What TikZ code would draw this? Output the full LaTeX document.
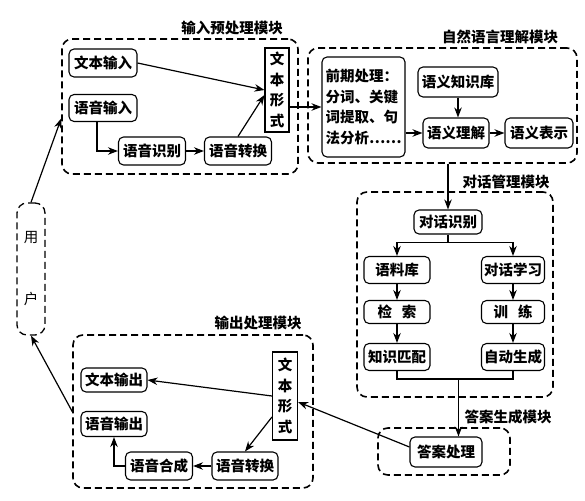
\documentclass[tikz,border=0pt]{standalone}
\usepackage{fontspec}
\newfontfamily\cjk{Noto Sans CJK SC}
\usetikzlibrary{arrows.meta,calc}
\begin{document}
\begin{tikzpicture}[x=1pt,y=-1pt,
  box/.style={draw, rounded corners=5pt, line width=1.1pt, inner sep=1pt, font=\cjk\bfseries\fontsize{14.5}{16}\selectfont},
  vbox/.style={draw, line width=1.1pt, inner sep=1pt, align=center, font=\cjk\bfseries\fontsize{14.5}{20.7}\selectfont},
  module/.style={draw, line width=1.6pt, dash pattern=on 7pt off 4pt, rounded corners=10pt, inner sep=0pt},
  title/.style={font=\cjk\bfseries\fontsize{14.5}{16}\selectfont},
  arr/.style={-{Stealth[length=10pt,width=7.5pt]}, line width=1.2pt},
  ln/.style={line width=1.2pt}]
\useasboundingbox (0,0) rectangle (585,500);

% ---------- input module ----------
\node[module, minimum width=236pt, minimum height=135pt] (inm) at (180,106.5) {};
\node[title] (t1) at (232,28) {输入预处理模块};
\node[box, minimum width=68pt, minimum height=28pt] (tin) at (103,63) {文本输入};
\node[box, minimum width=68pt, minimum height=27pt] (vin) at (103,108) {语音输入};
\node[box, minimum width=67pt, minimum height=28pt] (vrec) at (152,151) {语音识别};
\node[box, minimum width=67pt, minimum height=28pt] (vconv) at (238,151) {语音转换};
\node[vbox, minimum width=24pt, minimum height=84pt] (tform) at (277,90) {文\\本\\形\\式};

\draw[arr] (tin.east) -- (tform.west);
\draw[arr] ($(vin.south)+(-6,0)$) |- (vrec.west);
\draw[arr] (vrec.east) -- (vconv.west);
\draw[arr] (vconv.north) -- ($(tform.west)+(0,5)$);

% ---------- NLU module ----------
\node[module, minimum width=269pt, minimum height=115pt] (nlu) at (442.5,105.5) {};
\node[title] (t2) at (500,37) {自然语言理解模块};
\node[box, align=left, text width=76pt, minimum width=83pt, minimum height=100pt,
      font=\cjk\bfseries\fontsize{14.5}{20.5}\selectfont] (pre) at (363.5,107)
      {前期处理：\\分词、关键\\词提取、句\\法分析……};
\node[box, minimum width=80pt, minimum height=30pt] (kb) at (458,82) {语义知识库};
\node[box, minimum width=66pt, minimum height=30pt] (und) at (456,133) {语义理解};
\node[box, minimum width=68pt, minimum height=30pt] (rep) at (539,133) {语义表示};

\draw[arr] (tform.east |- pre.west) -- (pre.west);
\draw[arr] (pre.east |- und.west) -- (und.west);
\draw[arr] (kb.south) -- (kb.south |- und.north);
\draw[arr] (und.east) -- (rep.west);

% ---------- dialog module ----------
\node[module, minimum width=196pt, minimum height=205pt] (dlg) at (455,294.5) {};
\node[title] (t3) at (506,182) {对话管理模块};
\node[box, minimum width=68pt, minimum height=24pt] (dr) at (448,222) {对话识别};
\node[box, minimum width=66pt, minimum height=27pt] (corpus) at (397,270) {语料库};
\node[box, minimum width=63pt, minimum height=27pt] (learn) at (513,270) {对话学习};
\node[box, minimum width=66pt, minimum height=23pt] (search) at (397,312) {检\hspace{10pt}索};
\node[box, minimum width=63pt, minimum height=23pt] (train) at (513,312) {训\hspace{10pt}练};
\node[box, minimum width=66pt, minimum height=27pt] (match) at (397,357) {知识匹配};
\node[box, minimum width=63pt, minimum height=27pt] (gen) at (513,357) {自动生成};

\draw[arr] (nlu.south -| dr.north) -- (dr.north);
\draw[ln] (dr.south) -- ++(0,8) coordinate (fk);
\draw[arr] (fk) -| (corpus.north);
\draw[arr] (fk) -| (learn.north);
\draw[arr] (corpus.south) -- (search.north);
\draw[arr] (search.south) -- (match.north);
\draw[arr] (learn.south) -- (train.north);
\draw[arr] (train.south) -- (gen.north);
\draw[ln] (match.south) -- ++(0,8) coordinate (mg) -| (gen.south);
\coordinate (mm) at ($(mg)!0.53!(mg -| gen.south)$);

% ---------- answer module ----------
\node[module, minimum width=132pt, minimum height=47pt] (ansm) at (444,451.5) {};
\node[title] (t4) at (508,417) {答案生成模块};
\node[box, minimum width=72pt, minimum height=30pt] (ans) at (446,452) {答案处理};
\draw[arr] (mm) -- (mm |- ans.north);

% ---------- output module ----------
\node[module, minimum width=240pt, minimum height=153pt] (outm) at (193,411.5) {};
\node[title] (t5) at (258,323) {输出处理模块};
\node[box, minimum width=66pt, minimum height=24pt] (tout) at (114,380) {文本输出};
\node[box, minimum width=66pt, minimum height=25pt] (vout) at (114,424) {语音输出};
\node[box, minimum width=67pt, minimum height=28pt] (synth) at (159,466) {语音合成};
\node[box, minimum width=66pt, minimum height=28pt] (vconv2) at (245,466) {语音转换};
\node[vbox, minimum width=25pt, minimum height=88pt] (tform2) at (285,396) {文\\本\\形\\式};

\draw[arr] ($(ans.west)+(0,-5)$) -- ($(tform2.east)+(0,6)$);
\draw[arr] (tform2.west) -- (tout.east);
\draw[arr] ($(tform2.west)+(0,21)$) -- (vconv2.north);
\draw[arr] (vconv2.west) -- (synth.east);
\draw[arr] (synth.west) -| (vout.south);

% ---------- user ----------
\node[module, line width=1.3pt, minimum width=28pt, minimum height=132pt, align=center,
      font=\cjk\fontsize{14.5}{16}\selectfont] (user) at (31,269) {用\\[46pt]户};
\draw[arr] (outm.west) -- (user.south);
\draw[arr] (user.north) -- ($(inm.west)+(0,12)$);
\end{tikzpicture}
\end{document}
